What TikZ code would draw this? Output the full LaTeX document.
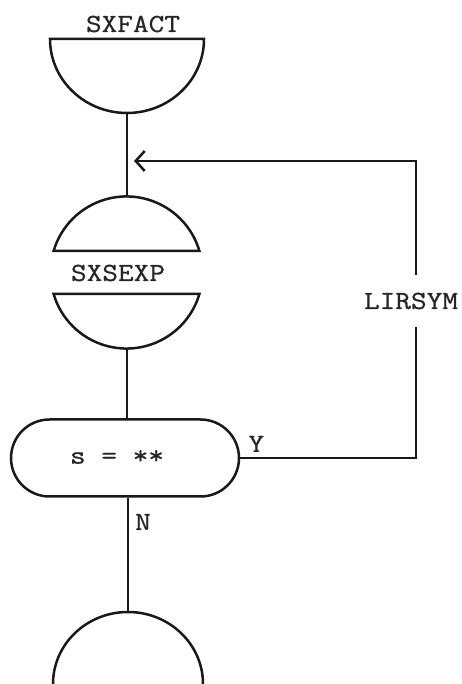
\documentclass[tikz,border=0pt]{standalone}
\usepackage{fontspec}
\newfontfamily\typewfont[FakeStretch=1.17, FakeBold=0.8]{Latin Modern Mono}
\usetikzlibrary{arrows.meta, positioning, shapes.misc}

\begin{document}
\begin{tikzpicture}[x=1pt, y=1pt]
    \tikzset{
  chart/.style={line width=2.5pt, black!90},
  flow/.style={line width=2.5pt, black!90},
  backflow/.style={flow, -{Straight Barb[length=9pt, width=20pt, line width=2.5pt]}},
  testbox/.style={rounded rectangle, draw=black!90, line width=2.5pt,
    minimum width=228pt, minimum height=77pt, inner sep=0pt},
  txt/.style={font=\typewfont\fontsize{26}{28}\selectfont, text=black!85, inner sep=0pt},
  brk/.style={txt, minimum height=52pt},
}
\useasboundingbox (0,0) rectangle (462,684);

% ── SXFACT: open half-disk at the top ─────────────────────────
\draw[chart] (50,645) -- (204,645)
  arc[start angle=0, end angle=-180, x radius=77, y radius=74] -- cycle;
\node[txt] (sxfact) at (133,660) {SXFACT};
\coordinate (factout) at (127,571);

% ── SXSEXP: circle cut by a band ──────────────────────────────
\draw[chart] (199.4,433) arc[start angle=16.4, end angle=163.6, radius=76] -- cycle;
\draw[chart] (199.4,390) arc[start angle=-16.4, end angle=-163.6, radius=76] -- cycle;
\node[txt] (sxsexp) at (118,411) {SXSEXP};
\coordinate (expin) at (127,487.5);
\coordinate (expout) at (127,335.5);

% ── Test s = ** ───────────────────────────────────────────────
\node[testbox] (test) at (125,226) {};
\node[txt] (testtxt) at (117,227) {s = **};
\node[txt, above right=6pt and 8pt of test.east, anchor=south west] (yes) {Y};
\node[txt] (no) at (143,162) {N};

% ── Exit: half-disk at the bottom ─────────────────────────────
\draw[chart] (203,0) arc[start angle=0, end angle=180, x radius=75, y radius=72];
\coordinate (exitin) at (128,72);

% ── Loop back: LIRSYM ─────────────────────────────────────────
\node[brk] (lirsym) at (411,383) {LIRSYM};
\coordinate (ycorner) at (416,226);
\coordinate (acorner) at (416,523);
\coordinate (atip) at (134,523);

% ── Edges ─────────────────────────────────────────────────────
\draw[flow] (factout) -- (expin);
\draw[flow] (expout) -- (expout |- test.north);
\draw[flow] (exitin |- test.south) -- (exitin);
\draw[flow] (test.east) -- (ycorner) -- (ycorner |- lirsym.south);
\draw[backflow] (ycorner |- lirsym.north) -- (acorner) -- (atip);

  \end{tikzpicture}
\end{document}
